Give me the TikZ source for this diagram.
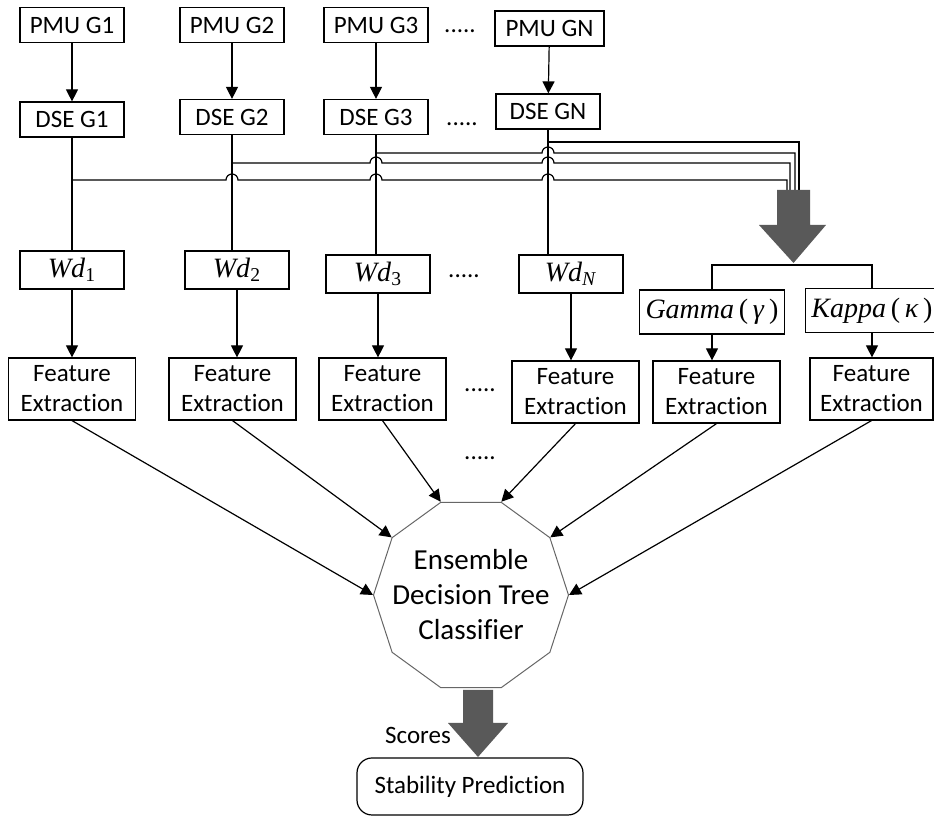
\documentclass[tikz,border=0pt]{standalone}
\usepackage{fontspec}
\setmainfont{Carlito}[Ligatures=NoCommon]
\newfontfamily\tmsfont{Liberation Serif}
\usetikzlibrary{arrows.meta,shapes.geometric}

\begin{document}
\begin{tikzpicture}[
    x=0.5pt, y=-0.5pt,
    font=\fontsize{12.5}{15}\selectfont,
    box/.style={rectangle, draw=black, line width=0.6pt, inner sep=2pt},
    unitbox/.style={box, minimum width=52pt, minimum height=17.5pt},
    wdbox/.style={box, minimum width=52pt, minimum height=19pt, font=\tmsfont\fontsize{14}{16}\selectfont},
    indexbox/.style={box, minimum height=22pt, inner xsep=3pt, font=\tmsfont\fontsize{14}{16}\selectfont},
    featbox/.style={box, minimum width=63.5pt, minimum height=31pt, align=center, font=\fontsize{12.5}{15}\selectfont},
    arrow/.style={line width=0.6pt, -{Triangle[length=6pt,width=6pt]}},
    bus/.style={line width=0.6pt},
    hop/.style={insert path={arc[start angle=180, end angle=0, radius=3pt]}},
    bigarrow/.style={fill=black!65, draw=none}
]
\useasboundingbox (0,0) rectangle (934,817);

% PMU row
\node[unitbox] (pmu1) at (72,25) {PMU G1};
\node[unitbox] (pmu2) at (232,25) {PMU G2};
\node[unitbox] (pmu3) at (376,25) {PMU G3};
\node[unitbox, minimum width=54.5pt] (pmuN) at (549.5,28.5) {PMU GN};
\node (dotsA) at (460,31) {.....};

% DSE row
\node[unitbox] (dse1) at (72,119.5) {DSE G1};
\node[unitbox] (dse2) at (232,117) {DSE G2};
\node[unitbox] (dse3) at (376,117) {DSE G3};
\node[unitbox] (dseN) at (548,111.5) {DSE GN};
\node (dotsB) at (462,124) {.....};

\draw[arrow] (pmu1) -- (dse1);
\draw[arrow] (pmu2) -- (dse2);
\draw[arrow] (pmu3) -- (dse3);
\draw[arrow] (pmuN) -- (dseN);

% Wd row
\node[wdbox] (wd1) at (72,270) {\textit{Wd}\textsubscript{1}};
\node[wdbox] (wd2) at (237,270) {\textit{Wd}\textsubscript{2}};
\node[wdbox] (wd3) at (378,274) {\textit{Wd}\textsubscript{3}};
\node[wdbox] (wdN) at (571,274) {\textit{Wd}\textsubscript{\textit{N}}};
\node (dotsC) at (464,276) {.....};

\node[indexbox, minimum width=71pt] (gam) at (712,312) {\textit{Gamma}\,(\,\textit{γ}\,)};
\node[indexbox, minimum width=61pt] (kap) at (872,310.5) {\textit{Kappa}\,(\,\textit{κ}\,)};

\draw[bus] (dse1) -- (wd1);
\draw[bus] (dse2.south) -- (dse2.south |- wd2.north);
\draw[bus] (dse3.south) -- (dse3.south |- wd3.north);
\draw[bus] (dseN.south) -- (dseN.south |- wdN.north);

% buses to the merge arrow
\coordinate (in1) at (787,190);
\coordinate (in2) at (790,190);
\coordinate (in3) at (795,190);
\coordinate (in4) at (799,190);
\draw[bus] (dse1.south |- 0,180) -- (226,180) [hop] -- (370,180) [hop] -- (542,180) [hop] -- (in1 |- 0,180) -- (in1);
\draw[bus] (dse2.south |- 0,163) -- (370,163) [hop] -- (542,163) [hop] -- (in2 |- 0,163) -- (in2);
\draw[bus] (dse3.south |- 0,153) -- (542,153) [hop] -- (in3 |- 0,153) -- (in3);
\draw[bus] (dseN.south |- 0,142) -- (in4 |- 0,142) -- (in4);

\fill[bigarrow] (777,190) -- (810,190) -- (810,225) -- (826,225) -- (793.5,263) -- (759,225) -- (777,225) -- cycle;
\coordinate (split) at (793.5,265);
\draw[bus] (gam.north) |- (split) -| (kap.north);

% Feature extraction row
\node[featbox] (fe1) at (72,389) {Feature\\Extraction};
\node[featbox] (fe2) at (232.5,389) {Feature\\Extraction};
\node[featbox] (fe3) at (382.5,389) {Feature\\Extraction};
\node[featbox] (feN) at (575.5,392) {Feature\\Extraction};
\node[featbox] (feG) at (716.5,392) {Feature\\Extraction};
\node[featbox, minimum width=61.5pt] (feK) at (871.5,389) {Feature\\Extraction};
\node (dotsD) at (480,390) {.....};
\node (dotsE) at (480,458) {.....};

\draw[arrow] (wd1) -- (fe1);
\draw[arrow] (wd2.south) -- (wd2.south |- fe2.north);
\draw[arrow] (wd3.south) -- (wd3.south |- fe3.north);
\draw[arrow] (wdN.south) -- (wdN.south |- feN.north);
\draw[arrow] (gam.south) -- (gam.south |- feG.north);
\draw[arrow] (kap.south) -- (kap.south |- feK.north);

% Classifier
\node[regular polygon, regular polygon sides=10, minimum size=97.5pt, draw=black!60, line width=0.5pt,
      inner sep=-9pt, align=center, font=\fontsize{14.5}{17.5}\selectfont] (dt) at (471,595)
      {Ensemble\\Decision Tree\\Classifier};

\draw[arrow] (fe1.south) -- (dt.corner 4);
\draw[arrow] (fe2.south) -- (dt.corner 3);
\draw[arrow] (fe3.south) -- (dt.corner 2);
\draw[arrow] (feN.south) -- (dt.corner 1);
\draw[arrow] (feG.south) -- (dt.corner 10);
\draw[arrow] (feK.south) -- (dt.corner 9);

% Output
\node[box, rounded corners=7.5pt, minimum width=113pt, minimum height=28.5pt] (pred) at (470,786.5) {Stability Prediction};
\fill[bigarrow] (463,690) -- (493,690) -- (493,723) -- (508,723) -- (478,757) -- (448,723) -- (463,723) -- cycle;
\node (scores) at (418,735) {Scores};

\end{tikzpicture}
\end{document}
